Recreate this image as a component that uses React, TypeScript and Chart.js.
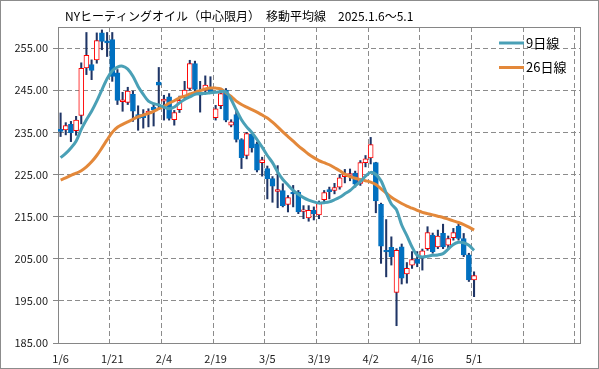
import React, { useEffect, useRef } from 'react';
import { Chart, registerables } from 'chart.js';

Chart.register(...registerables);

const titleText = 'NYヒーティングオイル（中心限月）　移動平均線　2025.1.6～5.1';
const seriesNames = ['9日線', '26日線'];

const dates = [
  '1/6', '1/7', '1/8', '1/9', '1/10', '1/13', '1/14', '1/15', '1/16', '1/17',
  '1/21', '1/22', '1/23', '1/24', '1/27', '1/28', '1/29', '1/30', '1/31', '2/3',
  '2/4', '2/5', '2/6', '2/7', '2/10', '2/11', '2/12', '2/13', '2/14', '2/18',
  '2/19', '2/20', '2/21', '2/24', '2/25', '2/26', '2/27', '2/28', '3/3', '3/4',
  '3/5', '3/6', '3/7', '3/10', '3/11', '3/12', '3/13', '3/14', '3/17', '3/18',
  '3/19', '3/20', '3/21', '3/24', '3/25', '3/26', '3/27', '3/28', '3/31', '4/1',
  '4/2', '4/3', '4/4', '4/7', '4/8', '4/9', '4/10', '4/11', '4/14', '4/15',
  '4/16', '4/17', '4/21', '4/22', '4/23', '4/24', '4/25', '4/28', '4/29', '4/30',
  '5/1',
];
const blankSlots = 20;
const labelEvery = 10;

const opens = [
  235.7, 235.6, 236.9, 235.4, 239.0, 250.3, 251.1, 252.2, 258.6, 256.7,
  257.0, 249.1, 242.3, 242.1, 244.0, 239.2, 239.2, 239.6, 241.0, 246.9,
  242.4, 243.4, 238.0, 240.4, 243.4, 245.4, 251.3, 244.5, 245.0, 245.4,
  238.5, 241.3, 245.0, 236.7, 239.2, 233.3, 229.5, 234.5, 232.3, 227.8,
  226.4, 224.0, 221.0, 221.2, 217.9, 220.8, 220.8, 216.2, 214.7, 216.5,
  215.4, 219.0, 221.4, 221.2, 222.0, 224.5, 224.8, 225.3, 222.9, 227.8,
  228.9, 227.8, 217.9, 207.0, 207.7, 197.0, 207.8, 201.4, 203.5, 204.9,
  205.5, 207.4, 210.6, 207.8, 211.0, 208.2, 210.0, 212.7, 209.8, 205.9,
  200.0,
];
const highs = [
  239.6, 237.3, 237.6, 238.8, 251.5, 258.7, 252.2, 258.6, 259.3, 258.7,
  258.7, 249.9, 244.5, 245.7, 244.8, 241.3, 240.4, 240.6, 241.8, 250.4,
  243.8, 244.2, 240.2, 243.6, 247.1, 252.1, 251.9, 247.1, 248.4, 248.2,
  241.4, 245.4, 245.4, 238.0, 240.2, 233.5, 235.0, 234.9, 232.7, 229.1,
  227.0, 224.5, 227.1, 222.8, 220.0, 222.4, 221.2, 217.6, 217.6, 217.3,
  218.7, 221.2, 222.0, 222.9, 225.0, 226.2, 226.3, 225.8, 228.3, 229.5,
  233.8, 227.9, 218.2, 214.3, 210.2, 207.4, 208.5, 204.1, 206.7, 206.7,
  207.3, 212.6, 211.1, 211.8, 213.2, 210.4, 212.2, 213.2, 211.0, 206.3,
  201.9,
];
const lows = [
  234.0, 234.4, 232.8, 234.3, 237.0, 248.7, 247.5, 251.4, 254.6, 253.0,
  247.1, 241.6, 240.0, 241.6, 237.6, 235.5, 236.0, 236.3, 236.5, 240.4,
  237.9, 237.9, 236.7, 239.7, 243.0, 245.0, 244.6, 239.8, 244.6, 244.2,
  237.9, 240.6, 237.5, 236.3, 232.7, 226.4, 228.7, 230.3, 225.6, 224.6,
  219.2, 218.4, 217.1, 217.3, 216.1, 217.3, 215.7, 214.5, 213.9, 214.2,
  214.5, 218.4, 219.2, 220.4, 221.5, 223.0, 223.5, 222.0, 222.4, 226.8,
  227.5, 215.9, 203.9, 200.7, 203.5, 189.1, 199.0, 199.2, 202.7, 203.1,
  202.3, 207.0, 206.3, 207.4, 207.4, 207.4, 209.4, 209.4, 205.5, 199.6,
  196.0,
];
const closes = [
  235.2, 236.6, 234.9, 237.9, 250.2, 253.3, 249.7, 256.8, 256.6, 256.2,
  248.3, 242.6, 242.7, 244.8, 240.0, 238.3, 238.5, 240.0, 240.3, 246.2,
  242.9, 238.3, 239.7, 242.6, 245.0, 251.3, 245.2, 243.8, 246.2, 244.6,
  240.6, 244.2, 237.9, 237.5, 233.3, 229.0, 234.7, 231.3, 226.0, 228.5,
  224.0, 222.2, 221.4, 217.6, 219.5, 220.4, 216.1, 216.6, 216.5, 215.7,
  218.4, 220.7, 220.9, 221.9, 224.2, 225.0, 225.2, 222.7, 227.8, 228.7,
  232.1, 218.7, 208.0, 206.6, 205.5, 207.0, 200.4, 202.7, 204.8, 203.9,
  206.9, 211.2, 206.7, 210.4, 207.8, 209.8, 211.2, 209.8, 205.9, 200.0,
  201.0,
];
const ma9 = [
  229.0, 230.0, 231.3, 232.9, 235.7, 238.0, 240.0, 242.4, 245.1, 247.7,
  249.6, 250.5, 250.7, 250.0, 248.3, 245.9, 244.0, 242.4, 241.8, 241.5,
  241.0, 240.6, 241.0, 242.0, 242.8, 243.4, 244.0, 244.2, 244.2, 244.4,
  244.5, 244.7, 244.6, 242.8, 240.3, 238.0, 236.3, 235.0, 233.3, 231.5,
  229.5, 227.8, 225.6, 223.8, 222.5, 221.2, 220.3, 219.5, 218.9, 218.5,
  218.2, 218.3, 218.5, 219.0, 219.6, 220.4, 221.2, 222.3, 223.3, 224.6,
  225.5, 225.0, 223.5, 220.6, 218.0, 216.6, 213.0, 210.5, 207.8, 205.8,
  205.4, 205.6, 205.8, 205.9, 206.2, 207.3, 208.4, 208.9, 208.8, 208.2,
  207.0,
];
const ma26 = [
  223.7, 224.2, 224.8, 225.3, 225.9, 226.8, 228.0, 229.5, 231.3, 233.2,
  235.0, 236.2, 236.9, 237.5, 238.1, 238.7, 239.1, 239.5, 240.0, 240.6,
  241.2, 241.9, 242.5, 243.2, 243.6, 244.1, 244.5, 244.9, 245.3, 245.5,
  245.5, 245.3, 244.4, 243.5, 242.4, 241.6, 241.0, 240.4, 239.8, 239.1,
  238.4, 237.4, 236.3, 235.1, 234.0, 232.9, 231.8, 230.8, 229.8, 229.0,
  228.3, 227.8, 227.3, 226.6, 225.9, 225.1, 224.5, 224.1, 223.8, 223.5,
  223.2, 222.6, 221.6, 220.6, 219.6, 218.8, 218.1, 217.5, 217.0, 216.5,
  216.0, 215.7, 215.4, 215.1, 214.8, 214.4, 214.0, 213.6, 213.1, 212.5,
  211.8,
];
const yTicks = [185, 195, 205, 215, 225, 235, 245, 255];
const yMin = 185;
const yMax = 260;

const TEAL = '#4AA0B6';
const ORANGE = '#E3883A';
const RED = '#FF0000';
const BLUE = '#0070C0';
const NAVY = '#1F3566';
const GRID = '#8C8C8C';
const AXIS = '#868686';
const FONT = '"Noto Sans CJK JP", "Noto Sans", sans-serif';

const framePlugin = {
  id: 'frame',
  beforeDatasetsDraw(chart: any) {
    const { ctx, chartArea: a } = chart;
    ctx.save();
    ctx.strokeStyle = AXIS;
    ctx.lineWidth = 1;
    ctx.beginPath();
    ctx.moveTo(a.left, Math.round(a.top) + 0.5);
    ctx.lineTo(a.right, Math.round(a.top) + 0.5);
    ctx.moveTo(Math.round(a.right) + 0.5, a.top);
    ctx.lineTo(Math.round(a.right) + 0.5, a.bottom);
    ctx.stroke();
    ctx.restore();
  },
};

const titleLegendPlugin = {
  id: 'titleLegend',
  afterDraw(chart: any) {
    const { ctx, chartArea: a } = chart;
    ctx.save();
    ctx.fillStyle = '#000';
    ctx.font = `12px ${FONT}`;
    ctx.textBaseline = 'middle';
    ctx.textAlign = 'left';
    ctx.fillText(titleText, 64, 15);
    const colors = [TEAL, ORANGE];
    seriesNames.forEach((name, i) => {
      const y = a.top + 16 + i * 24.5;
      ctx.strokeStyle = colors[i];
      ctx.lineWidth = 3;
      ctx.beginPath();
      ctx.moveTo(a.right - 81, y);
      ctx.lineTo(a.right - 56, y);
      ctx.stroke();
      ctx.fillStyle = '#000';
      ctx.font = `13px ${FONT}`;
      ctx.fillText(name, a.right - 54, y);
    });
    ctx.restore();
  },
};

export default function App() {
  const ref = useRef<HTMLCanvasElement>(null);
  useEffect(() => {
    document.body.style.margin = '0';
    const labels = [...dates, ...Array(blankSlots).fill('')];
    const wicks = dates.map((_, i) => [lows[i], highs[i]]);
    const bodies = dates.map((_, i) => [opens[i], closes[i]]);
    const up = dates.map((_, i) => closes[i] >= opens[i]);
    const chart = new Chart(ref.current as HTMLCanvasElement, {
      type: 'bar',
      data: {
        labels,
        datasets: [
          {
            type: 'line',
            label: seriesNames[0],
            data: ma9,
            borderColor: TEAL,
            borderWidth: 3,
            pointRadius: 0,
            tension: 0.3,
            order: 0,
          } as any,
          {
            type: 'line',
            label: seriesNames[1],
            data: ma26,
            borderColor: ORANGE,
            borderWidth: 3,
            pointRadius: 0,
            tension: 0.3,
            order: 0,
          } as any,
          {
            type: 'bar',
            label: 'body',
            data: bodies,
            backgroundColor: up.map((u) => (u ? '#FFFFFF' : BLUE)),
            borderColor: up.map((u) => (u ? RED : BLUE)),
            borderWidth: 1,
            borderSkipped: false,
            barThickness: 5,
            grouped: false,
            order: 1,
          } as any,
          {
            type: 'bar',
            label: 'wick',
            data: wicks,
            backgroundColor: NAVY,
            borderWidth: 0,
            barThickness: 1.4,
            grouped: false,
            order: 2,
          } as any,
        ],
      },
      options: {
        animation: false,
        responsive: false,
        devicePixelRatio: 1,
        layout: { padding: { top: 26, right: 18, left: 0, bottom: 0 } },
        plugins: {
          legend: { display: false },
          tooltip: { enabled: false },
          title: { display: false },
        },
        scales: {
          x: {
            type: 'category',
            offset: true,
            grid: {
              offset: true,
              drawTicks: false,
              lineWidth: 1,
              color: (c: any) => (typeof c.index === 'number' && c.index % labelEvery === 0 ? GRID : 'rgba(0,0,0,0)'),
            },
            border: { display: true, color: AXIS, width: 1, dash: [5, 3] },
            ticks: {
              autoSkip: false,
              maxRotation: 0,
              minRotation: 0,
              padding: 9,
              color: '#222',
              font: { family: FONT, size: 11 },
              callback: (_v: any, i: number) => (i % labelEvery === 0 ? labels[i] : ''),
            },
            afterFit: (s: any) => {
              s.height = 25;
            },
          },
          y: {
            type: 'linear',
            min: yMin,
            max: yMax,
            afterBuildTicks: (s: any) => {
              s.ticks = yTicks.map((v) => ({ value: v }));
            },
            grid: { color: GRID, lineWidth: 1, drawTicks: true, tickLength: 5, tickColor: AXIS },
            border: { display: true, color: AXIS, width: 1, dash: [5, 3] },
            ticks: {
              padding: 5,
              color: '#222',
              font: { family: FONT, size: 11 },
              callback: (v: any) => Number(v).toFixed(2),
            },
            afterFit: (s: any) => {
              s.width = 57;
            },
          },
        },
      },
      plugins: [framePlugin, titleLegendPlugin],
    });
    return () => chart.destroy();
  }, []);

  return (
    <div
      style={{
        position: 'relative',
        width: 599,
        height: 369,
        boxSizing: 'border-box',
        border: '1px solid #8C8C8C',
        background: '#fff',
      }}
    >
      <canvas ref={ref} width={597} height={367} style={{ width: 597, height: 367, display: 'block' }} />
    </div>
  );
}
